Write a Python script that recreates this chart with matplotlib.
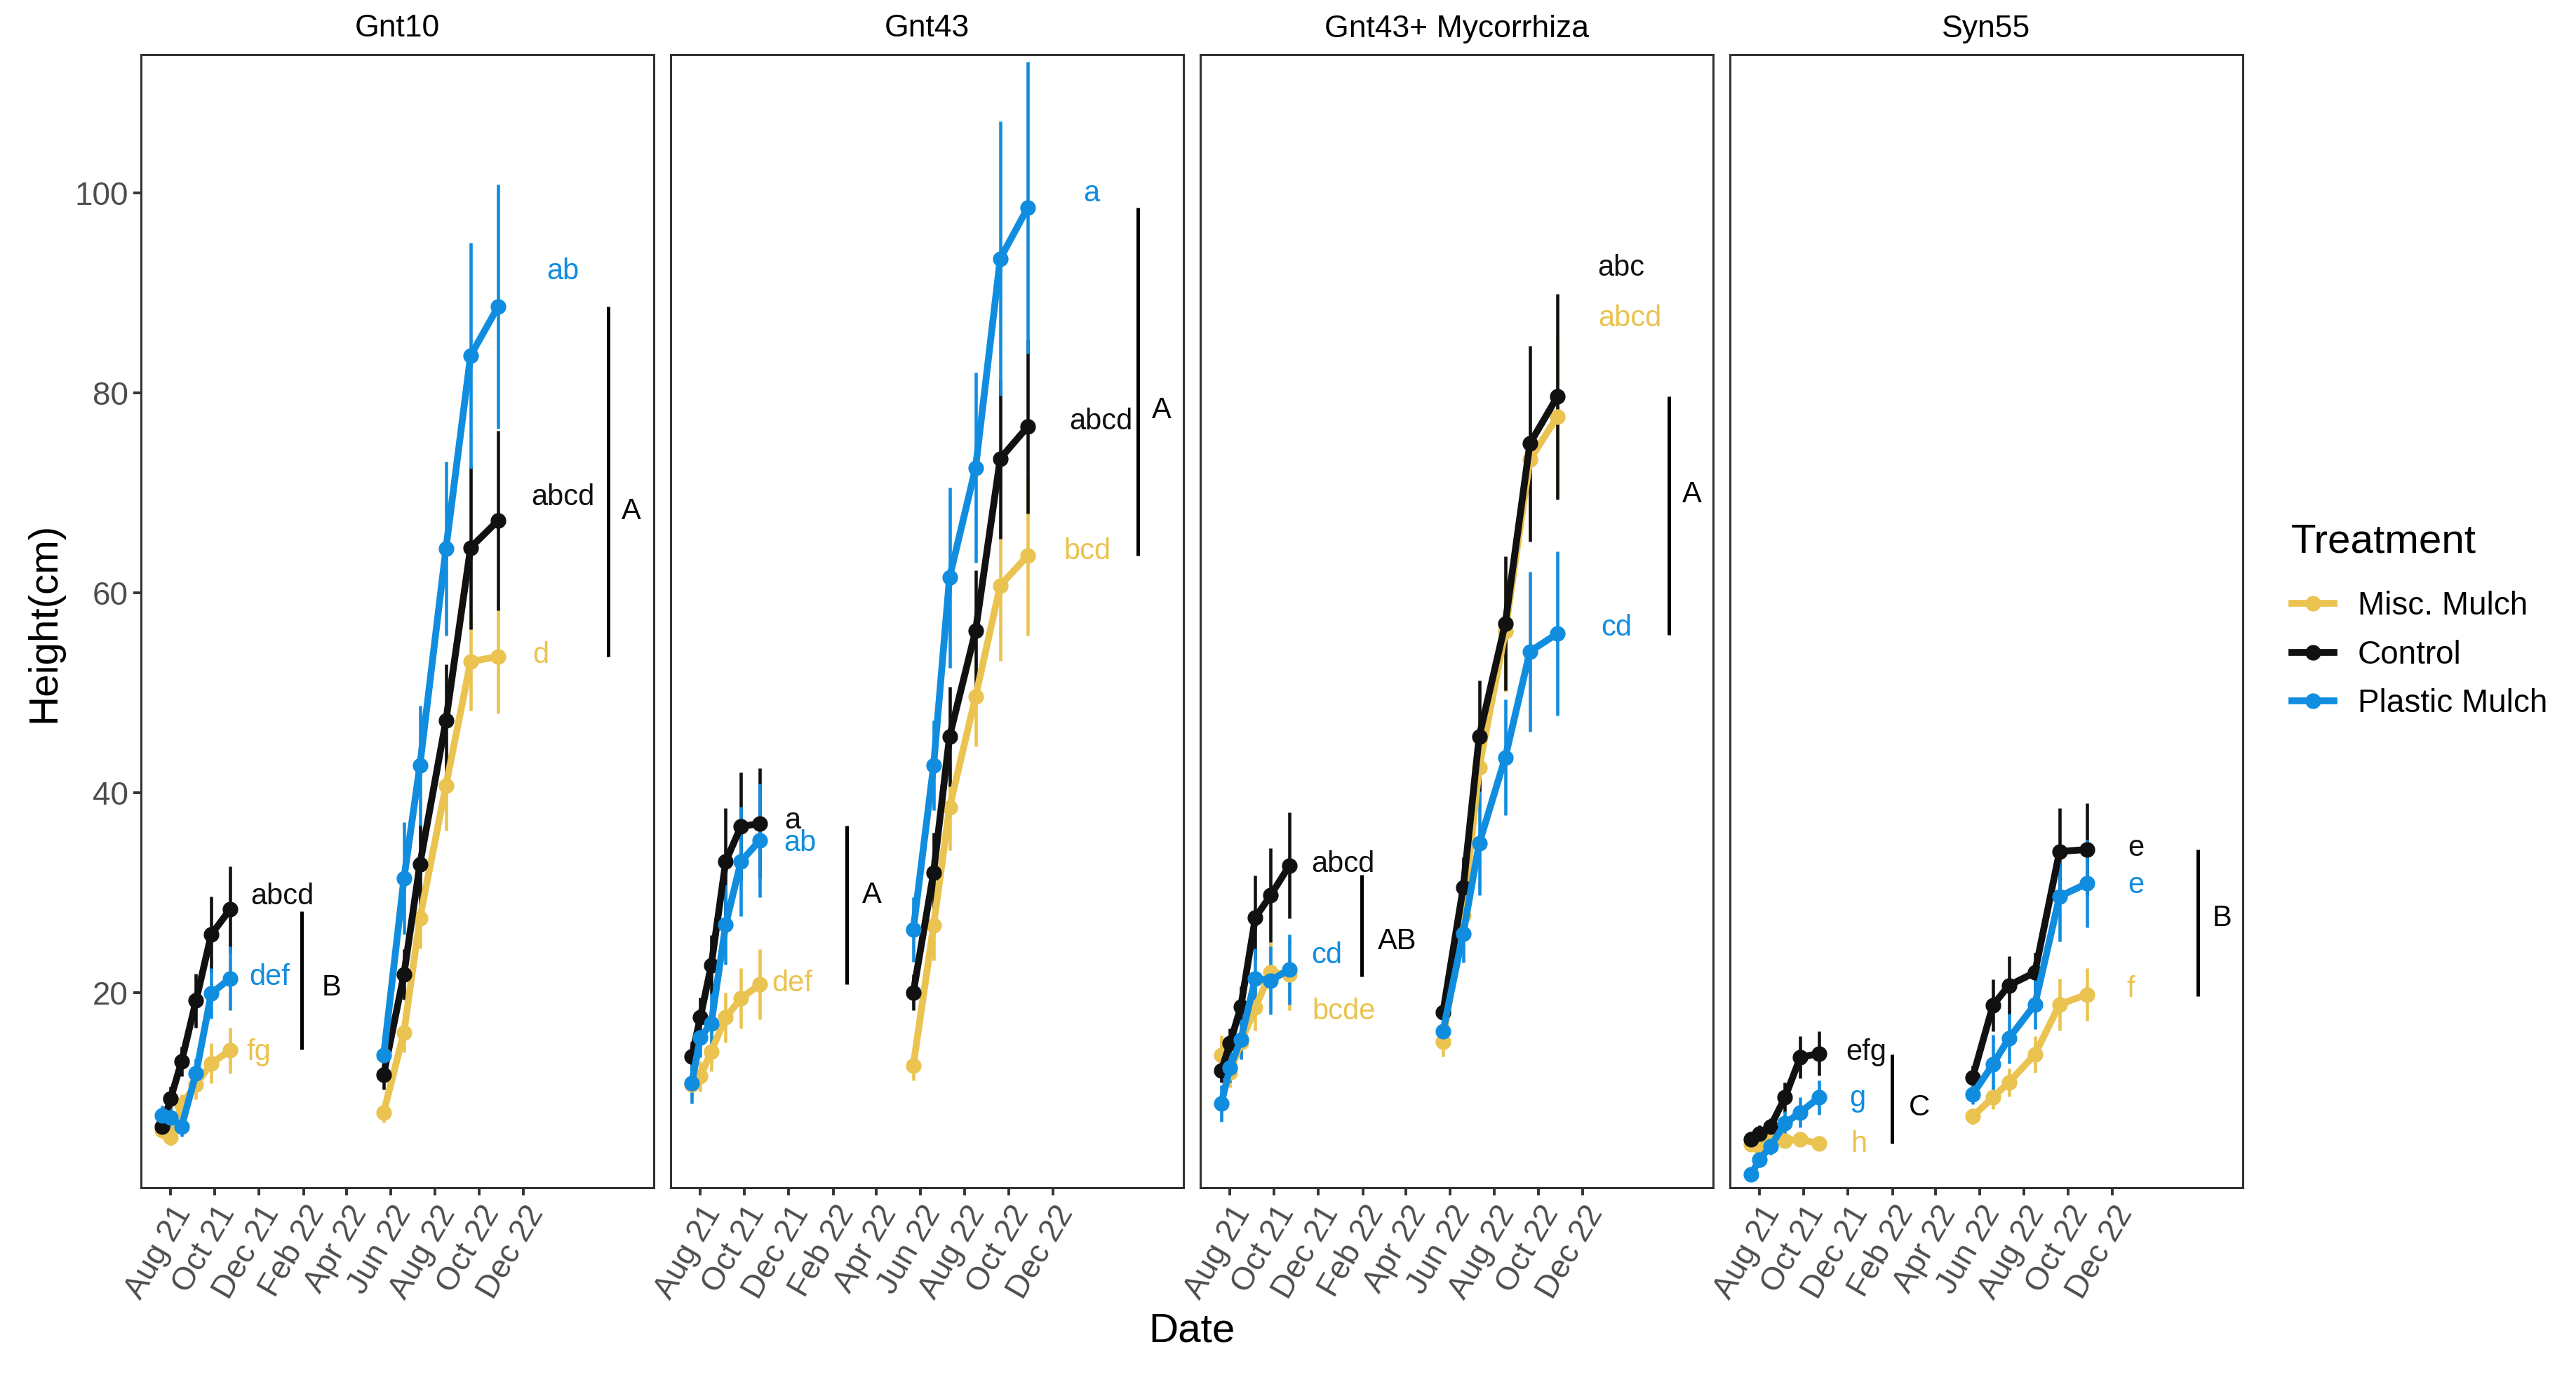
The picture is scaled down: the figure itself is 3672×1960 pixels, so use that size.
import matplotlib
matplotlib.use("Agg")
import matplotlib.pyplot as plt
import matplotlib.dates as mdates
from matplotlib.lines import Line2D
import numpy as np

plt.rcParams['font.family'] = ['Liberation Sans', 'DejaVu Sans']

panels = ["Gnt10", "Gnt43", "Gnt43+ Mycorrhiza", "Syn55"]
treatments = ["Misc. Mulch", "Control", "Plastic Mulch"]
colors = {"Misc. Mulch": "#EAC350", "Control": "#111111", "Plastic Mulch": "#118DE0"}

# measurement dates, two seasons
dates_2021 = ["2021-07-20", "2021-08-01", "2021-08-16", "2021-09-05", "2021-09-26", "2021-10-22"]
dates_2022 = ["2022-05-22", "2022-06-19", "2022-07-11", "2022-08-16", "2022-09-19", "2022-10-27"]

# mean height (cm): six 2021 values then six 2022 values
gnt10_misc = [6.2, 5.5, 8.8, 10.8, 12.9, 14.2, 8.0, 16.0, 27.4, 40.7, 53.1, 53.6]
gnt10_control = [6.6, 9.4, 13.1, 19.2, 25.8, 28.3, 11.8, 21.8, 32.8, 47.2, 64.5, 67.2]
gnt10_plastic = [7.7, 7.5, 6.6, 11.9, 19.9, 21.4, 13.7, 31.4, 42.7, 64.4, 83.7, 88.6]
gnt43_misc = [10.8, 11.6, 14.1, 17.5, 19.4, 20.8, 12.7, 26.7, 38.5, 49.6, 60.7, 63.7]
gnt43_control = [13.6, 17.5, 22.7, 33.1, 36.6, 36.9, 20.0, 32.0, 45.6, 56.2, 73.4, 76.6]
gnt43_plastic = [10.9, 15.5, 16.9, 26.8, 33.1, 35.2, 26.3, 42.7, 61.5, 72.5, 93.4, 98.5]
myco_misc = [13.7, 12.0, 15.0, 18.5, 22.0, 21.8, 15.1, 27.7, 42.5, 56.1, 73.3, 77.6]
myco_control = [12.2, 14.9, 18.6, 27.5, 29.7, 32.7, 18.0, 30.5, 45.6, 56.9, 74.9, 79.6]
myco_plastic = [8.9, 12.5, 15.3, 21.4, 21.2, 22.3, 16.1, 25.9, 34.9, 43.5, 54.1, 55.9]
syn55_misc = [4.8, 4.6, 5.5, 5.2, 5.3, 4.9, 7.6, 9.5, 11.0, 13.8, 18.8, 19.8]
syn55_control = [5.3, 5.9, 6.6, 9.5, 13.5, 13.9, 11.5, 18.7, 20.7, 22.0, 34.1, 34.3]
syn55_plastic = [1.8, 3.3, 4.6, 6.9, 8.0, 9.5, 9.8, 12.8, 15.4, 18.8, 29.6, 30.9]

# standard errors, same order
gnt10_misc_se = [0.8, 0.8, 1.0, 1.5, 2.0, 2.3, 1.0, 2.0, 3.0, 4.5, 4.9, 5.7]
gnt10_control_se = [1.0, 1.2, 1.5, 2.7, 3.8, 4.3, 1.5, 2.5, 4.0, 5.6, 8.2, 9.0]
gnt10_plastic_se = [1.0, 1.0, 1.0, 1.5, 2.5, 3.2, 2.0, 5.6, 6.0, 8.7, 11.3, 12.2]
gnt43_misc_se = [1.2, 1.5, 2.0, 2.5, 3.0, 3.5, 1.5, 3.5, 4.3, 5.0, 7.5, 8.0]
gnt43_control_se = [1.5, 2.0, 3.0, 5.3, 5.4, 5.5, 1.8, 4.0, 5.0, 6.0, 8.0, 8.7]
gnt43_plastic_se = [2.0, 2.0, 3.0, 4.0, 5.5, 5.7, 3.2, 4.5, 9.0, 9.5, 13.7, 14.6]
myco_misc_se = [2.0, 1.5, 1.5, 2.3, 3.0, 3.6, 1.5, 2.5, 4.0, 6.0, 7.0, 8.0]
myco_control_se = [1.2, 1.5, 2.0, 4.2, 4.7, 5.3, 1.5, 3.0, 5.6, 6.7, 9.8, 10.3]
myco_plastic_se = [1.8, 1.5, 2.0, 3.0, 3.4, 3.5, 1.5, 2.9, 5.2, 5.8, 8.0, 8.2]
syn55_misc_se = [0.6, 0.6, 0.6, 0.6, 0.6, 0.6, 0.8, 1.2, 1.4, 1.8, 2.6, 2.6]
syn55_control_se = [0.8, 0.8, 0.8, 1.5, 2.1, 2.2, 1.2, 2.6, 2.9, 2.0, 4.3, 4.6]
syn55_plastic_se = [0.6, 0.8, 0.8, 1.2, 1.5, 1.7, 1.0, 3.0, 2.5, 2.5, 4.5, 4.4]

series = {
    "Gnt10": {"Misc. Mulch": (gnt10_misc, gnt10_misc_se),
              "Control": (gnt10_control, gnt10_control_se),
              "Plastic Mulch": (gnt10_plastic, gnt10_plastic_se)},
    "Gnt43": {"Misc. Mulch": (gnt43_misc, gnt43_misc_se),
              "Control": (gnt43_control, gnt43_control_se),
              "Plastic Mulch": (gnt43_plastic, gnt43_plastic_se)},
    "Gnt43+ Mycorrhiza": {"Misc. Mulch": (myco_misc, myco_misc_se),
                          "Control": (myco_control, myco_control_se),
                          "Plastic Mulch": (myco_plastic, myco_plastic_se)},
    "Syn55": {"Misc. Mulch": (syn55_misc, syn55_misc_se),
              "Control": (syn55_control, syn55_control_se),
              "Plastic Mulch": (syn55_plastic, syn55_plastic_se)},
}

# significance letters next to the last point of each season
letters = {
    "Gnt10": [("abcd", "2022-01-02", 29.6, "Control"), ("def", "2021-12-15", 21.5, "Plastic Mulch"),
              ("fg", "2021-11-30", 14.0, "Misc. Mulch"), ("ab", "2023-01-24", 92.1, "Plastic Mulch"),
              ("abcd", "2023-01-24", 69.5, "Control"), ("d", "2022-12-25", 53.7, "Misc. Mulch")],
    "Gnt43": [("a", "2021-12-06", 37.2, "Control"), ("ab", "2021-12-17", 34.9, "Plastic Mulch"),
              ("def", "2021-12-06", 20.9, "Misc. Mulch"), ("a", "2023-01-23", 99.9, "Plastic Mulch"),
              ("abcd", "2023-02-05", 77.1, "Control"), ("bcd", "2023-01-17", 64.1, "Misc. Mulch")],
    "Gnt43+ Mycorrhiza": [("abcd", "2022-01-04", 32.8, "Control"), ("cd", "2021-12-13", 23.7, "Plastic Mulch"),
                          ("bcde", "2022-01-05", 18.1, "Misc. Mulch"), ("abc", "2023-01-23", 92.5, "Control"),
                          ("abcd", "2023-02-04", 87.4, "Misc. Mulch"), ("cd", "2023-01-17", 56.5, "Plastic Mulch")],
    "Syn55": [("efg", "2021-12-26", 14.0, "Control"), ("g", "2021-12-14", 9.35, "Plastic Mulch"),
              ("h", "2021-12-16", 4.8, "Misc. Mulch"), ("e", "2023-01-03", 34.4, "Control"),
              ("e", "2023-01-03", 30.7, "Plastic Mulch"), ("f", "2022-12-26", 20.3, "Misc. Mulch")],
}

# season groups: label, bar date, bar low, bar high, label date, label height
groups = {
    "Gnt10": [("B", "2022-01-29", 14.3, 28.1, "2022-03-11", 20.5),
              ("A", "2023-03-28", 53.6, 88.6, "2023-04-29", 68.1)],
    "Gnt43": [("A", "2022-02-19", 20.8, 36.7, "2022-03-26", 29.7),
              ("A", "2023-03-28", 63.7, 98.5, "2023-04-30", 78.2)],
    "Gnt43+ Mycorrhiza": [("AB", "2022-01-30", 21.6, 31.8, "2022-03-20", 25.1),
                          ("A", "2023-03-30", 55.8, 79.6, "2023-05-01", 69.8)],
    "Syn55": [("C", "2022-01-31", 4.9, 13.8, "2022-03-09", 8.5),
              ("B", "2023-03-29", 19.6, 34.3, "2023-05-01", 27.4)],
}

W, H = 3673, 1960
fig = plt.figure(figsize=(W / 100, H / 100), dpi=100)

d21 = np.array(dates_2021, dtype="datetime64[D]")
d22 = np.array(dates_2022, dtype="datetime64[D]")
ticks = np.arange(np.datetime64("2021-08"), np.datetime64("2023-01"), 2).astype("datetime64[D]")

left0, pw, gap = 201, 731, 24
top, bottom = 78, 1693
for i, name in enumerate(panels):
    x0 = left0 + i * (pw + gap)
    ax = fig.add_axes([x0 / W, 1 - bottom / H, pw / W, (bottom - top) / H])
    for tr in treatments:
        mean, se = series[name][tr]
        c = colors[tr]
        for j, d in enumerate([d21, d22]):
            m = np.array(mean[j * 6:(j + 1) * 6])
            s = np.array(se[j * 6:(j + 1) * 6])
            ax.vlines(d, m - s, m + s, color=c, lw=3.3, zorder=2)
            ax.plot(d, m, color=c, lw=7, marker="o", ms=15, zorder=3)
    for txt, dt, y, tr in letters[name]:
        ax.text(np.datetime64(dt), y, txt, color=colors[tr], fontsize=30,
                ha="center", va="center", zorder=4)
    for lab, bx, y0, y1, lx, ly in groups[name]:
        ax.vlines(np.datetime64(bx), y0, y1, color="black", lw=3.6)
        ax.text(np.datetime64(lx), ly, lab, color="black", fontsize=30, ha="center", va="center")

    ax.set_xlim(np.datetime64("2021-06-21"), np.datetime64("2023-05-30"))
    ax.set_ylim(0.47, 113.8)
    ax.set_xticks(ticks)
    ax.xaxis.set_major_formatter(mdates.DateFormatter("%b %y"))
    ax.set_yticks([20, 40, 60, 80, 100])
    for sp in ax.spines.values():
        sp.set_color("#333333")
        sp.set_linewidth(2.2)
    ax.tick_params(axis="both", length=8, width=2.8, color="#333333",
                   labelsize=33, labelcolor="#4D4D4D", pad=5)
    for lbl in ax.get_xticklabels():
        lbl.set_rotation(60)
        lbl.set_ha("right")
        lbl.set_va("top")
        lbl.set_rotation_mode("anchor")
    if i > 0:
        ax.tick_params(axis="y", left=False, labelleft=False)
    fig.text((x0 + pw / 2) / W, 1 - 41 / H, name, fontsize=32, ha="center", va="center")

fig.text(1699 / W, 1 - 1897 / H, "Date", fontsize=42, ha="center", va="center")
fig.text(63 / W, 1 - 887 / H, "Height(cm)", fontsize=42, rotation=90, ha="center", va="center")

# legend: title drawn separately so its gap to the keys can be set
fig.text(3266 / W, 1 - 773 / H, "Treatment", fontsize=42, ha="left", va="center")
handles = [Line2D([0], [0], color=colors[t], lw=7, marker="o", ms=15) for t in treatments]
fig.legend(handles, treatments, loc="upper left", bbox_to_anchor=(3267 / W, 1 - 842 / H),
           frameon=False, fontsize=33, handlelength=1.3, handletextpad=0.75,
           labelspacing=0.56, borderaxespad=0, borderpad=0)

fig.savefig("out.png", dpi=100)
